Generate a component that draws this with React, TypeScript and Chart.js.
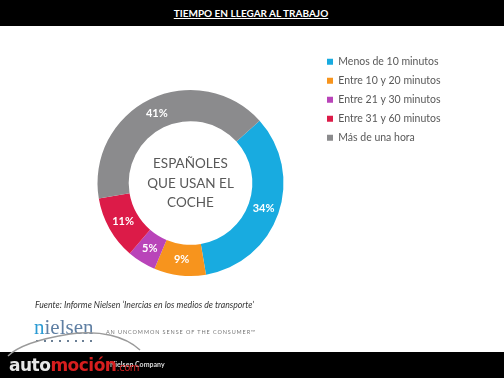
import React, { useEffect, useRef } from "react";
import { Chart, registerables } from "chart.js";
Chart.register(...registerables);

const title = "TIEMPO EN LLEGAR AL TRABAJO";
const categories = [
  "Menos de 10 minutos",
  "Entre 10 y 20 minutos",
  "Entre 21 y 30 minutos",
  "Entre 31 y 60 minutos",
  "Más de una hora",
];
const values = [34, 9, 5, 11, 41];
const valueLabels = ["34%", "9%", "5%", "11%", "41%"];
const colors = ["#18ABE0", "#F7941D", "#B944B9", "#DC1B48", "#8B8B8D"];
const centerLines = ["ESPAÑOLES", "QUE USAN EL", "COCHE"];
const sourceText = "Fuente: Informe Nielsen \u2018Inercias en los medios de transporte\u2019";
const taglineText = "AN UNCOMMON SENSE OF THE CONSUMER\u2122";

const FONT = "Lato, 'Open Sans', sans-serif";

const sliceLabels = {
  id: "sliceLabels",
  afterDatasetsDraw(chart: any) {
    const ctx = chart.ctx;
    const meta = chart.getDatasetMeta(0);
    meta.data.forEach((arc: any, i: number) => {
      const p = arc.tooltipPosition();
      ctx.save();
      ctx.fillStyle = "#ffffff";
      ctx.font = `bold 11px ${FONT}`;
      ctx.textAlign = "center";
      ctx.textBaseline = "middle";
      ctx.fillText(valueLabels[i], p.x, p.y);
      ctx.restore();
    });
  },
};

export default function App() {
  const ref = useRef<HTMLCanvasElement>(null);
  useEffect(() => {
    const canvas = ref.current!;
    const legendFont = { family: FONT, size: 10.5 };
    const m = document.createElement("canvas").getContext("2d")!;
    m.font = `${legendFont.size}px ${legendFont.family}`;
    const maxText = Math.max(...categories.map((c) => m.measureText(c).width));
    const boxW = 6;
    const pad = 8.5;
    const legendWidth = pad + boxW + legendFont.size / 2 + maxText + 10;
    const legendLeft = 318.5;
    const padRight = Math.max(0, 504 - legendLeft - legendWidth);
    const chart = new Chart(canvas, {
      type: "doughnut",
      data: {
        labels: categories,
        datasets: [{ data: values, backgroundColor: colors, borderWidth: 0 }],
      },
      options: {
        animation: false,
        responsive: false,
        maintainAspectRatio: false,
        rotation: 48,
        radius: 93,
        cutout: "66.5%",
        layout: { padding: { left: 62.5, right: padRight, top: 22, bottom: 34 } },
        plugins: {
          legend: {
            position: "right",
            align: "start",
            labels: {
              boxWidth: boxW,
              boxHeight: 6,
              padding: pad,
              color: "#595959",
              font: legendFont,
            },
          },
          tooltip: { enabled: false },
        },
      },
      plugins: [sliceLabels],
    } as any);
    return () => chart.destroy();
  }, []);

  return (
    <div
      style={{
        position: "absolute",
        left: 0,
        top: 0,
        width: 504,
        height: 378,
        background: "#ffffff",
        overflow: "hidden",
        fontFamily: FONT,
      }}
    >
      <div
        style={{
          position: "absolute",
          left: 0,
          top: 0,
          width: 504,
          height: 26,
          background: "#000",
        }}
      />
      <div
        style={{
          position: "absolute",
          left: 0,
          top: 7,
          width: 502,
          textAlign: "center",
          color: "#fff",
          fontWeight: 700,
          fontSize: 10,
          lineHeight: "13px",
          textDecoration: "underline",
        }}
      >
        {title}
      </div>
      <canvas
        ref={ref}
        width={504}
        height={326}
        style={{ position: "absolute", left: 0, top: 26, width: 504, height: 326 }}
      />
      <div
        style={{
          position: "absolute",
          left: 130,
          top: 154,
          width: 121,
          textAlign: "center",
          color: "#595959",
          fontSize: 13.5,
          lineHeight: "19.5px",
        }}
      >
        {centerLines.map((l, i) => (
          <div key={i}>{l}</div>
        ))}
      </div>
      <div
        style={{
          position: "absolute",
          left: 35,
          top: 299,
          fontSize: 8.7,
          fontStyle: "italic",
          color: "#333",
          whiteSpace: "nowrap",
        }}
      >
        {sourceText}
      </div>
      <div
        style={{
          position: "absolute",
          left: 34,
          top: 316,
          fontFamily: "'Liberation Serif', 'DejaVu Serif', serif",
          fontSize: 21,
          lineHeight: "22px",
          color: "#5F7FA3",
          whiteSpace: "nowrap",
        }}
      >
        <span style={{ color: "#2A9AD3" }}>n</span>ielsen
      </div>
      <div
        style={{
          position: "absolute",
          left: 36,
          top: 340,
          width: 56,
          display: "flex",
          justifyContent: "space-between",
        }}
      >
        {[0, 1, 2, 3, 4, 5, 6, 7].map((i) => (
          <div key={i} style={{ width: 2, height: 2, background: "#6B7F95" }} />
        ))}
      </div>
      <div
        style={{
          position: "absolute",
          left: 106,
          top: 329,
          fontSize: 5.5,
          letterSpacing: 0.9,
          color: "#777",
          whiteSpace: "nowrap",
        }}
      >
        {taglineText}
      </div>
      <div
        style={{
          position: "absolute",
          left: 0,
          top: 352,
          width: 504,
          height: 26,
          background: "#000",
        }}
      />
      <svg
        width={504}
        height={378}
        style={{ position: "absolute", left: 0, top: 0 }}
      >
        <path
          d="M8 356 C 20 344, 45 338, 70 334 C 100 330, 125 336, 140 350"
          stroke="#9a9a9a"
          strokeWidth={1.5}
          fill="none"
        />
      </svg>
      <div
        style={{
          position: "absolute",
          left: 110,
          top: 360,
          fontSize: 7,
          fontWeight: 700,
          color: "#ddd",
          whiteSpace: "nowrap",
        }}
      >
        Nielsen Company
      </div>
      <div
        style={{
          position: "absolute",
          left: 9,
          top: 355,
          fontSize: 17,
          fontWeight: 900,
          fontFamily: "'DejaVu Sans', sans-serif",
          lineHeight: "20px",
          whiteSpace: "nowrap",
          letterSpacing: -0.5,
        }}
      >
        <span style={{ color: "#e6e6e6" }}>auto</span>
        <span style={{ color: "#D71E1E" }}>moción</span>
        <span style={{ color: "#D71E1E", fontSize: 10, fontWeight: 400 }}>.com</span>
      </div>
    </div>
  );
}
